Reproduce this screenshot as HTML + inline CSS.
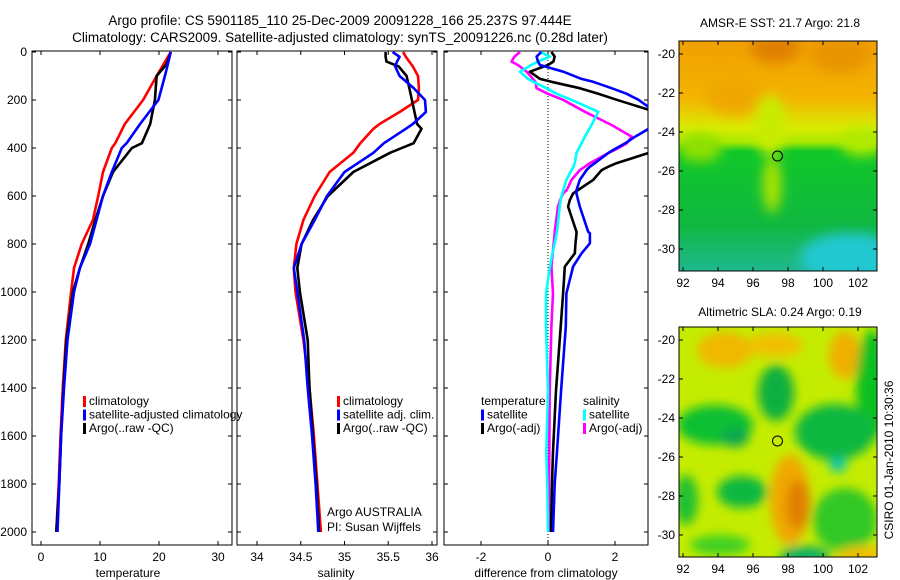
<!DOCTYPE html>
<html><head><meta charset="utf-8">
<style>
body{margin:0;background:#fff;}
svg{display:block;font-family:"Liberation Sans",sans-serif;}
text{fill:#000;}
</style></head>
<body>
<svg id="chart" width="900" height="580" viewBox="0 0 900 580" xmlns="http://www.w3.org/2000/svg">
<defs>
<clipPath id="c1"><rect x="32" y="51" width="200" height="494"/></clipPath>
<clipPath id="c2"><rect x="237" y="51" width="200" height="494"/></clipPath>
<clipPath id="c3"><rect x="444" y="51" width="204" height="494"/></clipPath>
<clipPath id="m1c"><rect x="679" y="41" width="198" height="230"/></clipPath>
<clipPath id="m2c"><rect x="679" y="327" width="198" height="230"/></clipPath>
<filter id="blur" x="-50%" y="-50%" width="200%" height="200%"><feGaussianBlur stdDeviation="6"/></filter>
<filter id="blur2" x="-50%" y="-50%" width="200%" height="200%"><feGaussianBlur stdDeviation="5"/></filter>
<linearGradient id="g1" x1="0" y1="0" x2="0" y2="1">
<stop offset="0" stop-color="#f0a000"/><stop offset="0.25" stop-color="#f4b400"/><stop offset="0.38" stop-color="#d8ec00"/><stop offset="0.44" stop-color="#a8e800"/><stop offset="0.48" stop-color="#10c828"/><stop offset="0.8" stop-color="#10b840"/><stop offset="1" stop-color="#20b890"/>
</linearGradient>
</defs>
<text x="340" y="25" font-size="13.5" text-anchor="middle">Argo profile: CS 5901185_110 25-Dec-2009 20091228_166 25.237S 97.444E</text>
<text x="340" y="42" font-size="13.5" text-anchor="middle">Climatology: CARS2009. Satellite-adjusted climatology: synTS_20091226.nc (0.28d later)</text>
<g id="plots"></g>
<g id="maps">
<text x="780" y="27" font-size="12" text-anchor="middle">AMSR-E SST: 21.7 Argo: 21.8</text>
<g clip-path="url(#m1c)">
<rect x="679" y="41" width="198" height="230" fill="url(#g1)"/>
<g filter="url(#blur)">
<ellipse cx="775" cy="48" rx="25" ry="15" fill="#e08000"/>
<ellipse cx="840" cy="55" rx="30" ry="18" fill="#e89400"/>
<ellipse cx="735" cy="95" rx="30" ry="20" fill="#f0a800"/>
<ellipse cx="770" cy="125" rx="16" ry="30" fill="#c8ec00"/>
<ellipse cx="700" cy="148" rx="22" ry="14" fill="#8ee000"/>
<ellipse cx="862" cy="142" rx="22" ry="14" fill="#b0ea00"/>
<ellipse cx="772" cy="185" rx="9" ry="28" fill="#b0e400"/>
<ellipse cx="850" cy="258" rx="50" ry="25" fill="#20c8d0"/>
</g>
<circle cx="777.5" cy="156" r="5" fill="none" stroke="#000"/>
</g>
<rect x="679" y="41" width="198" height="230" fill="none" stroke="#000"/>
<text x="780" y="316" font-size="12" text-anchor="middle">Altimetric SLA: 0.24 Argo: 0.19</text>
<g clip-path="url(#m2c)">
<rect x="679" y="327" width="198" height="230" fill="#c4ec00"/>
<g filter="url(#blur2)">
<ellipse cx="725" cy="350" rx="28" ry="18" fill="#f0b800"/>
<ellipse cx="775" cy="345" rx="28" ry="12" fill="#f0c000"/>
<ellipse cx="845" cy="355" rx="16" ry="24" fill="#f0b000"/>
<ellipse cx="872" cy="385" rx="16" ry="55" fill="#10c020"/>
<ellipse cx="776" cy="393" rx="18" ry="28" fill="#10b040"/>
<ellipse cx="715" cy="425" rx="38" ry="20" fill="#10c030"/>
<ellipse cx="735" cy="437" rx="14" ry="10" fill="#10a850"/>
<ellipse cx="835" cy="432" rx="40" ry="28" fill="#10b840"/>
<ellipse cx="838" cy="465" rx="9" ry="7" fill="#10c8b0"/>
<ellipse cx="790" cy="500" rx="20" ry="45" fill="#f0a800"/>
<ellipse cx="798" cy="505" rx="12" ry="25" fill="#e08000"/>
<ellipse cx="742" cy="492" rx="25" ry="16" fill="#10b840"/>
<ellipse cx="686" cy="500" rx="12" ry="25" fill="#20c030"/>
<ellipse cx="805" cy="556" rx="25" ry="10" fill="#10b060"/>
<ellipse cx="845" cy="520" rx="32" ry="32" fill="#30c828"/>
<ellipse cx="862" cy="556" rx="25" ry="10" fill="#f0c000"/>
<ellipse cx="720" cy="545" rx="30" ry="10" fill="#40d020"/>
</g>
<circle cx="777.5" cy="441" r="5" fill="none" stroke="#000"/>
</g>
<rect x="679" y="327" width="198" height="230" fill="none" stroke="#000"/>
<text transform="translate(893,460) rotate(-90)" font-size="12" text-anchor="middle">CSIRO 01-Jan-2010 10:30:36</text>
</g>
</svg>
<script>
// ---- data ----
const depthTicks=[0,200,400,600,800,1000,1200,1400,1600,1800,2000];
const tempTicks=[0,10,20,30];
const salTicks=[34,34.5,35,35.5,36];
const diffTicks=[-2,0,2];
const latTicks=[-20,-22,-24,-26,-28,-30];
const lonTicks=[92,94,96,98,100,102];
const tDepth=[0,50,100,200,300,380,400,500,600,700,800,900,1000,1200,1400,1600,1800,2000];
const tArgo=[22,21.3,19.6,19.3,18.5,17.1,15.4,12.2,10.5,9.2,8,6.6,5.4,4.3,3.8,3.4,3.1,2.6];
const tClim=[22,20.8,19.6,17.3,14.2,12.6,12,10.5,9.7,8.8,6.9,5.6,5.1,4.2,3.7,3.3,3,2.6];
const tSat=[22,21.5,21,19.9,16.8,14.5,13.7,12,10.5,9.4,8.3,6.6,5.6,4.5,3.9,3.4,3.1,2.8];
const sDepth=[0,20,40,60,100,150,200,250,300,320,380,420,500,600,700,800,900,1000,1200,1400,1600,1800,2000];
const sArgo=[35.47,35.47,35.48,35.62,35.71,35.74,35.77,35.80,35.83,35.88,35.79,35.52,35.1,34.81,34.64,34.51,34.46,34.49,34.58,34.6,34.64,34.68,34.71];
const sClim=[35.67,35.7,35.74,35.78,35.84,35.85,35.84,35.63,35.4,35.33,35.18,35.1,34.83,34.66,34.53,34.45,34.42,34.44,34.53,34.6,34.65,34.69,34.73];
const sSat=[35.55,35.63,35.6,35.58,35.63,35.79,35.92,35.93,35.78,35.7,35.45,35.33,35.0,34.8,34.66,34.51,34.42,34.46,34.54,34.58,34.63,34.67,34.7];
const dDepth=[0,19,40,54,82,112,124,151,174,199,249,304,353,381,408,421,463,478,492,533,575,589,617,644,749,755,797,839,894,1006,1144,1410,1665,1800,2000];
const dTempSat=[-0.2,-0.34,-0.3,-0.24,0.46,1.0,1.35,1.9,2.35,2.7,3.2,3.2,2.6,2.3,1.95,1.8,1.4,1.25,1.15,0.95,0.85,0.85,0.9,0.95,1.2,1.25,1.25,1.0,0.75,0.55,0.53,0.39,0.27,0.2,0.15];
const dTempArgo=[0.1,0.2,0.16,0.0,-0.54,-0.24,0.1,0.95,1.5,2.05,3.2,3.4,3.4,3.3,3.2,3.0,2.05,1.8,1.6,1.35,0.9,0.75,0.65,0.6,0.85,0.85,0.82,0.8,0.5,0.45,0.38,0.24,0.15,0.12,0.09];
const dSalSat=[-0.24,0.06,-0.3,-0.5,-0.84,-0.6,-0.44,-0.05,0.26,0.7,1.5,1.3,1.1,1.0,0.9,0.85,0.8,0.76,0.7,0.55,0.46,0.42,0.38,0.35,0.27,0.26,0.2,0.13,0.06,-0.06,-0.06,0,-0.05,-0.02,0];
const dSalArgo=[-0.84,-1.0,-1.09,-0.9,-0.64,-0.45,-0.38,-0.34,0.0,0.45,1.1,1.9,2.5,2.35,2.0,1.8,1.25,1.1,0.95,0.7,0.56,0.45,0.36,0.3,0.2,0.2,0.17,0.14,0.1,0.15,0.1,0.05,0.04,0.03,0.03];
// ---- scales ----
const NS='http://www.w3.org/2000/svg';
const yD=d=>52+d*0.24;
const xT=t=>41+t*5.9;
const xS=s=>257+(s-34)*87.5;
const xDf=v=>548+v*33.5;
const lonX=l=>683+(l-92)*17.5;
function mk(tag,attrs,parent){const e=document.createElementNS(NS,tag);for(const k in attrs)e.setAttribute(k,attrs[k]);parent.appendChild(e);return e;}
const root=document.getElementById('plots');
function panel(name,x0,x1,clip,xTicks,xf,label,labelX){
  const g=mk('g',{},root);
  
  
  const fr=mk('rect',{x:x0,y:51,width:x1-x0,height:494,fill:'none',stroke:'#000'},g);
  
  
  depthTicks.forEach(d=>{mk('line',{x1:x0,x2:x0+4,y1:yD(d),y2:yD(d),stroke:'#000'},g);mk('line',{x1:x1-4,x2:x1,y1:yD(d),y2:yD(d),stroke:'#000'},g);});
  xTicks.forEach(v=>{
    mk('line',{x1:xf(v),x2:xf(v),y1:51,y2:55,stroke:'#000'},g);
    mk('line',{x1:xf(v),x2:xf(v),y1:541,y2:545,stroke:'#000'},g);
    const t=mk('text',{x:xf(v),y:561,'font-size':12,'text-anchor':'middle'},g);
    
    
    t.textContent=(v<0?'-':'')+Math.abs(v);
  });
  const lb=mk('text',{x:labelX,y:577,'font-size':12,'text-anchor':'middle'},g);
  
  
  lb.textContent=label;
  const cg=mk('g',{'clip-path':'url(#'+clip+')'},g);
  return cg;
}
function line(g,xs,ds,xf,color,name){
  const p=mk('polyline',{points:xs.map((v,i)=>xf(v).toFixed(1)+','+yD(ds[i]).toFixed(1)).join(' '),fill:'none',stroke:color,'stroke-width':2.6,'stroke-linejoin':'round'},g);
  
  
}
function legend(x,y,items){
  items.forEach((it,i)=>{
    const yy=y+i*13.5;
    if(it[1]){mk('rect',{x:x,y:yy-9,width:3,height:11,fill:it[1]},root);}
    const t=mk('text',{x:x+(it[1]?6:0),y:yy,'font-size':12},root);
    
    
    t.textContent=it[0];
  });
}
depthTicks.forEach(d=>{
  const t=mk('text',{x:27,y:yD(d)+4,'font-size':12,'text-anchor':'end'},root);
  
  
  t.textContent=d;
});
const p1=panel('temperature-panel',32,232,'c1',tempTicks,xT,'temperature',128);
line(p1,tClim,tDepth,xT,'#f00','temp-climatology-line');
line(p1,tArgo,tDepth,xT,'#000','temp-argo-line');
line(p1,tSat,tDepth,xT,'#00f','temp-satellite-line');
const p2=panel('salinity-panel',237,437,'c2',salTicks,xS,'salinity',336);
line(p2,sClim,sDepth,xS,'#f00','sal-climatology-line');
line(p2,sArgo,sDepth,xS,'#000','sal-argo-line');
line(p2,sSat,sDepth,xS,'#00f','sal-satellite-line');
const p3=panel('difference-panel',444,648,'c3',diffTicks,xDf,'difference from climatology',546);
mk('line',{x1:xDf(0),x2:xDf(0),y1:51,y2:545,stroke:'#000','stroke-dasharray':'1,2'},p3);
line(p3,dSalArgo,dDepth,xDf,'#f0f','diff-sal-argo-line');
line(p3,dSalSat,dDepth,xDf,'#0ff','diff-sal-satellite-line');
line(p3,dTempArgo,dDepth,xDf,'#000','diff-temp-argo-line');
line(p3,dTempSat,dDepth,xDf,'#00f','diff-temp-satellite-line');
legend(83,405,[['climatology','#f00'],['satellite-adjusted climatology','#00f'],['Argo(..raw -QC)','#000']]);
legend(337,405,[['climatology','#f00'],['satellite adj. clim.','#00f'],['Argo(..raw -QC)','#000']]);
legend(481,405,[['temperature',null],['satellite','#00f'],['Argo(-adj)','#000']]);
legend(583,405,[['salinity',null],['satellite','#0ff'],['Argo(-adj)','#f0f']]);
const a1=mk('text',{x:327,y:516,'font-size':12},root);a1.textContent='Argo AUSTRALIA';


const a2=mk('text',{x:327,y:531,'font-size':12},root);a2.textContent='PI: Susan Wijffels';


const maps=document.getElementById('maps');
[[54,41,271],[340,327,557]].forEach(m=>{
  latTicks.forEach(l=>{
    const y=m[0]+(-20-l)*19.5;
    mk('line',{x1:679,x2:683,y1:y,y2:y,stroke:'#000'},maps);
    mk('line',{x1:873,x2:877,y1:y,y2:y,stroke:'#000'},maps);
    const t=mk('text',{x:675,y:y+4,'font-size':12,'text-anchor':'end'},maps);
    
    
    t.textContent=l;
  });
  lonTicks.forEach(l=>{
    const x=lonX(l);
    mk('line',{x1:x,x2:x,y1:m[1],y2:m[1]+4,stroke:'#000'},maps);
    mk('line',{x1:x,x2:x,y1:m[2]-4,y2:m[2],stroke:'#000'},maps);
    const t=mk('text',{x:x,y:m[2]+16,'font-size':12,'text-anchor':'middle'},maps);
    
    
    t.textContent=l;
  });
});
</script>
</body></html>
